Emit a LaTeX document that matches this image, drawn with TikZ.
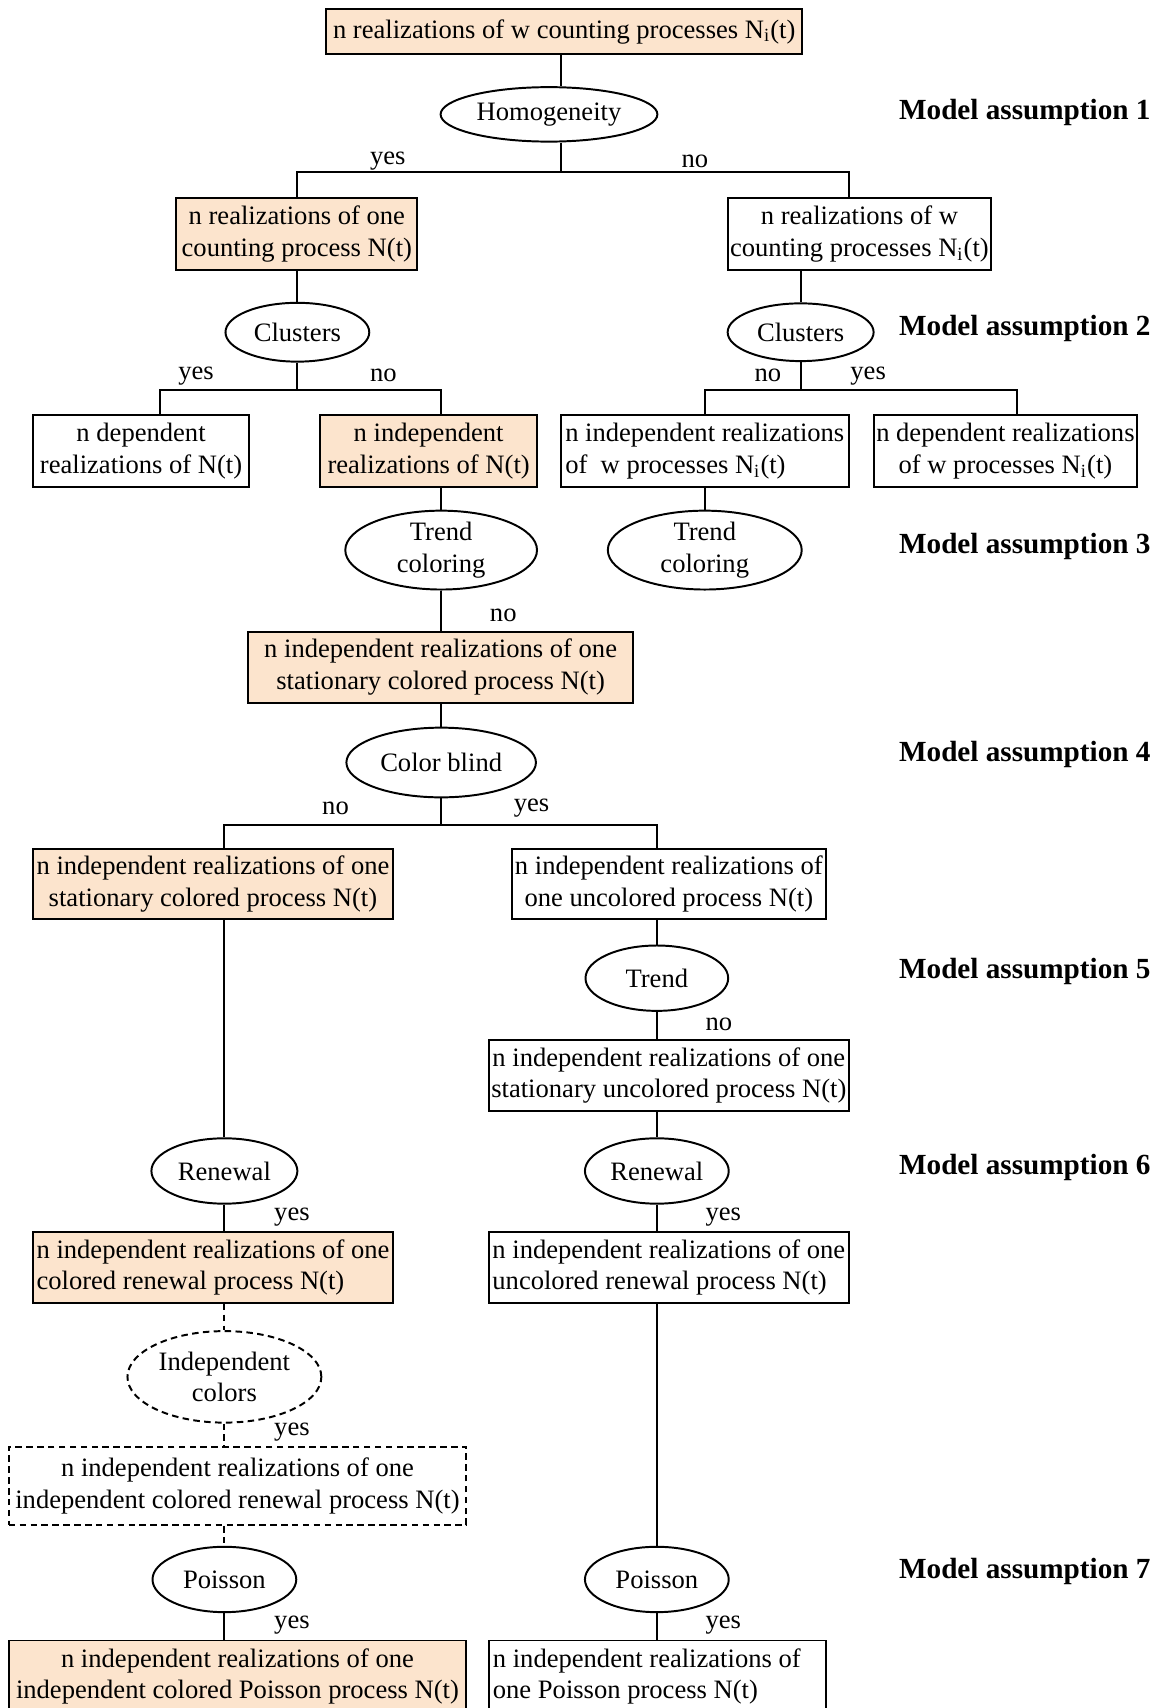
\documentclass[tikz,border=0pt]{standalone}
\usepackage{fontspec}
\setmainfont{Liberation Serif}
\usetikzlibrary{shapes.geometric}
\definecolor{peach}{RGB}{252,228,205}
\tikzset{
  every node/.style={font=\fontsize{12.2}{14.5}\selectfont},
  pbox/.style={draw, rectangle, line width=0.9pt, inner xsep=1pt, inner ysep=1pt, align=center},
  fbox/.style={pbox, fill=peach},
  lbox/.style={pbox, align=left},
  qnode/.style={draw, ellipse, line width=0.9pt, inner sep=0pt, align=center},
  conn/.style={line width=0.9pt},
  dconn/.style={line width=0.9pt, dash pattern=on 3pt off 2pt},
  lab/.style={inner sep=0pt},
  assum/.style={anchor=west, inner sep=0pt, font=\fontsize{13.4}{16}\selectfont\bfseries},
}
\begin{document}
\begin{tikzpicture}[x=0.5pt, y=-0.5pt]
\useasboundingbox (0,0) rectangle (1064,1568);
\fill[white] (0,0) rectangle (1064,1568);
\clip (0,0) rectangle (1064,1568);

% nodes
\node[fbox, minimum width=218.5pt, minimum height=21pt] (top) at (518,29) {n realizations of w counting processes N\textsubscript{i}(t)};
\node[qnode, minimum width=99.5pt, minimum height=25pt] (homog) at (504,105) {Homogeneity};
\node[fbox, minimum width=110.5pt, minimum height=33pt] (A) at (272.5,215) {n realizations of one\\counting process N(t)};
\node[pbox, minimum width=121pt, minimum height=33pt] (B) at (789,215) {n realizations of w\\counting processes N\textsubscript{i}(t)};
\node[qnode, minimum width=66pt, minimum height=27pt] (C1) at (273,305) {Clusters};
\node[qnode, minimum width=67pt, minimum height=26.5pt] (C2) at (735,305) {Clusters};
\node[pbox, minimum width=99.5pt, minimum height=33pt] (D1) at (129.5,414) {n dependent\\realizations of N(t)};
\node[fbox, minimum width=99.5pt, minimum height=33pt] (D2) at (393.5,414) {n independent\\realizations of N(t)};
\node[lbox, minimum width=132pt, minimum height=33pt] (D3) at (647,414) {n independent realizations\\of~ w processes N\textsubscript{i}(t)};
\node[pbox, minimum width=121pt, minimum height=33pt] (D4) at (923,414) {n dependent realizations\\of w processes N\textsubscript{i}(t)};
\node[qnode, minimum width=88pt, minimum height=35pt] (T1) at (405,505) {Trend\\coloring};
\node[qnode, minimum width=89pt, minimum height=35pt] (T2) at (647,505) {Trend\\coloring};
\node[fbox, minimum width=176.5pt, minimum height=32.5pt] (E1) at (404.5,612.5) {n independent realizations of one\\stationary colored process N(t)};
\node[qnode, minimum width=87pt, minimum height=32pt] (CB) at (405,700) {Color blind};
\node[fbox, minimum width=165.5pt, minimum height=32.5pt] (F1) at (195.5,811.5) {n independent realizations of one\\stationary colored process N(t)};
\node[pbox, minimum width=144pt, minimum height=32.5pt] (F2) at (614,811.5) {n independent realizations of\\one uncolored process N(t)};
\node[qnode, minimum width=65.5pt, minimum height=30pt] (TR) at (603,898) {Trend};
\node[pbox, minimum width=165pt, minimum height=32.5pt] (G2) at (614,987.5) {n independent realizations of one\\stationary uncolored process N(t)};
\node[qnode, minimum width=67pt, minimum height=30pt] (RN1) at (206,1075) {Renewal};
\node[qnode, minimum width=66pt, minimum height=30pt] (RN2) at (603,1075) {Renewal};
\node[lbox, fill=peach, minimum width=165.5pt, minimum height=32.5pt] (H1) at (195.5,1163.5) {n independent realizations of one\\colored renewal process N(t)};
\node[lbox, minimum width=165pt, minimum height=32.5pt] (H2) at (614,1163.5) {n independent realizations of one\\uncolored renewal process N(t)};
\node[qnode, dash pattern=on 3pt off 2pt, minimum width=89pt, minimum height=42pt] (IC) at (206,1264) {Independent\\colors};
\node[pbox, dash pattern=on 3pt off 2pt, minimum width=210pt, minimum height=36pt] (J1) at (218,1364) {n independent realizations of one\\independent colored renewal process N(t)};
\node[qnode, minimum width=66pt, minimum height=30pt] (PO1) at (206,1450) {Poisson};
\node[qnode, minimum width=66pt, minimum height=30pt] (PO2) at (603,1450) {Poisson};
\node[fbox, minimum width=210pt, minimum height=33pt] (K1) at (218,1539) {n independent realizations of one\\independent colored Poisson process N(t)};
\node[pbox, align=flush left, text width=151pt, minimum width=154.5pt, minimum height=33pt] (K2) at (603.5,1539) {n independent realizations of\\one Poisson process N(t)};

% model assumption labels
\node[assum] (m1) at (825,103) {Model assumption 1};
\node[assum] (m2) at (825,302) {Model assumption 2};
\node[assum] (m3) at (825,502) {Model assumption 3};
\node[assum] (m4) at (825,693) {Model assumption 4};
\node[assum] (m5) at (825,892) {Model assumption 5};
\node[assum] (m6) at (825,1072) {Model assumption 6};
\node[assum] (m7) at (825,1443) {Model assumption 7};

% yes/no labels
\node[lab] (y1) at (356,148) {yes};
\node[lab] (n1) at (638,148) {no};
\node[lab] (y2) at (180,345) {yes};
\node[lab] (n2) at (352,345) {no};
\node[lab] (n3) at (705,345) {no};
\node[lab] (y3) at (797,345) {yes};
\node[lab] (n4) at (462,565) {no};
\node[lab] (n5) at (308,742) {no};
\node[lab] (y5) at (488,742) {yes};
\node[lab] (n6) at (660,940) {no};
\node[lab] (y6) at (664,1117) {yes};
\node[lab] (y7) at (268,1117) {yes};
\node[lab] (y8) at (268,1315) {yes};
\node[lab] (y9) at (268,1492) {yes};
\node[lab] (y10) at (664,1492) {yes};

% junctions
\coordinate (s1) at (515,158);
\coordinate (s1l) at (273,158);
\coordinate (s1r) at (779,158);
\coordinate (s2) at (273,358);
\coordinate (s2l) at (147,358);
\coordinate (s2r) at (405,358);
\coordinate (s3) at (735,358);
\coordinate (s3l) at (647,358);
\coordinate (s3r) at (934,358);
\coordinate (s4) at (405,757);
\coordinate (s4l) at (206,757);
\coordinate (s4r) at (603,757);

% connectors
\draw[conn] (top.south -| s1) -- (s1 |- homog.north);
\draw[conn] (s1 |- homog.south) -- (s1);
\draw[conn] (s1l |- A.north) -- (s1l) -- (s1r) -- (s1r |- B.north);
\draw[conn] (C1.north |- A.south) -- (C1.north);
\draw[conn] (C1.south) -- (s2);
\draw[conn] (s2l |- D1.north) -- (s2l) -- (s2r) -- (s2r |- D2.north);
\draw[conn] (C2.north |- B.south) -- (C2.north);
\draw[conn] (C2.south) -- (s3);
\draw[conn] (s3l |- D3.north) -- (s3l) -- (s3r) -- (s3r |- D4.north);
\draw[conn] (T1.north |- D2.south) -- (T1.north);
\draw[conn] (T2.north |- D3.south) -- (T2.north);
\draw[conn] (T1.south) -- (T1.south |- E1.north);
\draw[conn] (CB.north |- E1.south) -- (CB.north);
\draw[conn] (CB.south) -- (s4);
\draw[conn] (s4l |- F1.north) -- (s4l) -- (s4r) -- (s4r |- F2.north);
\draw[conn] (TR.north |- F2.south) -- (TR.north);
\draw[conn] (TR.south) -- (TR.south |- G2.north);
\draw[conn] (RN2.north |- G2.south) -- (RN2.north);
\draw[conn] (RN2.south) -- (RN2.south |- H2.north);
\draw[conn] (PO2.north |- H2.south) -- (PO2.north);
\draw[conn] (PO2.south) -- (PO2.south |- K2.north);
\draw[conn] (RN1.north |- F1.south) -- (RN1.north);
\draw[conn] (RN1.south) -- (RN1.south |- H1.north);
\draw[dconn] (IC.north |- H1.south) -- (IC.north);
\draw[dconn] (IC.south) -- (IC.south |- J1.north);
\draw[dconn] (PO1.north |- J1.south) -- (PO1.north);
\draw[conn] (PO1.south) -- (PO1.south |- K1.north);
\end{tikzpicture}
\end{document}
